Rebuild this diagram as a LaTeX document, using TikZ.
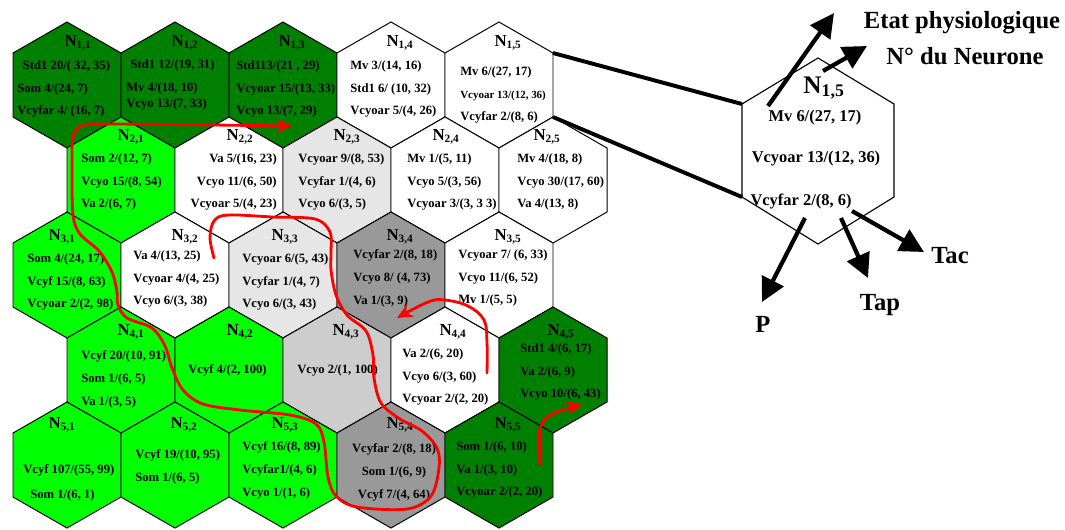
\documentclass[tikz,border=0pt]{standalone}
\usepackage{fontspec}
\setmainfont{Liberation Serif}
\usetikzlibrary{arrows.meta}

\definecolor{dkgreen}{RGB}{0,128,0}
\definecolor{ltgreen}{RGB}{0,255,0}
\definecolor{palegray}{RGB}{230,230,230}
\definecolor{midgray}{RGB}{205,205,205}
\definecolor{dkgray}{RGB}{153,153,153}

% hexagon cell: centre x, centre y, fill
\newcommand{\hexa}[3]{%
  \filldraw[hexline, fill=#3] ([shift={(#1,#2)}]0,-63) -- ++(54,31) -- ++(0,64) -- ++(-54,31) -- ++(-54,-31) -- ++(0,-64) -- cycle;}

\begin{document}
\begin{tikzpicture}[x=0.025cm, y=-0.025cm,
    hexline/.style={draw=black, line width=0.7pt},
    cell/.style={inner sep=0pt, align=left, anchor=west, font=\fontsize{9}{16.3}\selectfont\bfseries},
    numlab/.style={inner sep=0pt, font=\fontsize{12}{12}\selectfont\bfseries},
    zoomtxt/.style={inner sep=0pt, font=\fontsize{11.7}{12}\selectfont\bfseries},
    bigtxt/.style={inner sep=0pt, anchor=base, font=\fontsize{17.5}{18}\selectfont\bfseries},
    link/.style={line width=2.8pt},
    bigarrow/.style={line width=3pt, -{Triangle[length=17pt,width=17pt]}},
    trail/.style={draw=red, line width=2pt, line cap=round, line join=round}]
	\useasboundingbox (0,0) rectangle (1065,529);

	% the map
	\hexa{67}{85}{dkgreen}   \hexa{175}{85}{dkgreen}  \hexa{283}{85}{dkgreen}  \hexa{391}{85}{white}    \hexa{499}{85}{white}
	\hexa{121}{180}{ltgreen} \hexa{229}{180}{white}   \hexa{337}{180}{palegray} \hexa{445}{180}{white}  \hexa{553}{180}{white}
	\hexa{67}{275}{ltgreen}  \hexa{175}{275}{white}   \hexa{283}{275}{palegray} \hexa{391}{275}{dkgray} \hexa{499}{275}{white}
	\hexa{121}{370}{ltgreen} \hexa{229}{370}{ltgreen} \hexa{337}{370}{midgray}  \hexa{445}{370}{white}  \hexa{553}{370}{dkgreen}
	\hexa{67}{465}{ltgreen}  \hexa{175}{465}{ltgreen} \hexa{283}{465}{ltgreen}  \hexa{391}{465}{dkgray} \hexa{499}{465}{dkgreen}

	\node [numlab] (lab11) at (78,43) {N\textsubscript{1,1}};
	\node [cell] (txt11) at (17,89) {\hspace*{4pt}Std1 20/( 32,  35)\\Som 4/(24, 7)\\Vcyfar 4/ (16, 7)};
	\node [numlab] (lab12) at (185,43) {N\textsubscript{1,2}};
	\node [cell] (txt12) at (126,85) {\hspace*{3pt}Std1 12/(19, 31)\\Mv 4/(18, 10)\\[-5.5pt]Vcyo 13/(7, 33)};
	\node [numlab] (lab13) at (292,43) {N\textsubscript{1,3}};
	\node [cell] (txt13) at (236,89) {Std113/(21 , 29)\\Vcyoar 15/(13, 33)\\Vcyo 13/(7, 29)};
	\node [numlab] (lab14) at (400,43) {N\textsubscript{1,4}};
	\node [cell] (txt14) at (350,89) {Mv 3/(14, 16)\\Std1 6/ (10, 32)\\Vcyoar  5/(4, 26)};
	\node [numlab] (lab15) at (508,43) {N\textsubscript{1,5}};
	\node [cell] (txt15) at (460,95) {Mv 6/(27, 17)\\{\fontsize{7.8}{8}\selectfont Vcyoar 13/(12, 36)}\\Vcyfar 2/(8, 6)};

	\node [numlab] (lab21) at (131,137) {N\textsubscript{2,1}};
	\node [cell] (txt21) at (81,182) {Som 2/(12, 7)\\Vcyo 15/(8, 54)\\Va 2/(6, 7)};
	\node [numlab] (lab22) at (240,137) {N\textsubscript{2,2}};
	\node [cell, align=right, anchor=east] (txt22) at (277,182) {Va 5/(16, 23)\\Vcyo 11/(6, 50)\\Vcyoar 5/(4, 23)};
	\node [numlab] (lab23) at (347,137) {N\textsubscript{2,3}};
	\node [cell] (txt23) at (298,182) {Vcyoar 9/(8, 53)\\Vcyfar 1/(4, 6)\\Vcyo 6/(3, 5)};
	\node [numlab] (lab24) at (446,137) {N\textsubscript{2,4}};
	\node [cell] (txt24) at (407,182) {Mv 1/(5, 11)\\Vcyo 5/(3, 56)\\Vcyoar 3/(3, 3 3)};
	\node [numlab] (lab25) at (547,137) {N\textsubscript{2,5}};
	\node [cell] (txt25) at (517,182) {Mv 4/(18, 8)\\Vcyo 30/(17, 60)\\Va 4/(13, 8)};

	\node [numlab] (lab31) at (62,237) {N\textsubscript{3,1}};
	\node [cell] (txt31) at (27,282) {Som 4/(24, 17)\\Vcyf 15/(8, 63)\\Vcyoar 2/(2, 98)};
	\node [numlab] (lab32) at (185,237) {N\textsubscript{3,2}};
	\node [cell] (txt32) at (133,279) {Va 4/(13, 25)\\Vcyoar 4/(4, 25)\\Vcyo 6/(3, 38)};
	\node [numlab] (lab33) at (285,237) {N\textsubscript{3,3}};
	\node [cell] (txt33) at (242,282) {Vcyoar 6/(5, 43)\\Vcyfar 1/(4, 7)\\Vcyo 6/(3, 43)};
	\node [numlab] (lab34) at (400,237) {N\textsubscript{3,4}};
	\node [cell] (txt34) at (353,278) {Vcyfar 2/(8, 18)\\Vcyo 8/ (4, 73)\\Va 1/(3, 9)};
	\node [numlab] (lab35) at (508,237) {N\textsubscript{3,5}};
	\node [cell] (txt35) at (458,278) {Vcyoar 7/ (6, 33)\\Vcyo 11/(6, 52)\\Mv 1/(5, 5)};

	\node [numlab] (lab41) at (131,332) {N\textsubscript{4,1}};
	\node [cell] (txt41) at (81,379) {Vcyf 20/(10, 91)\\Som 1/(6, 5)\\Va 1/(3, 5)};
	\node [numlab] (lab42) at (240,332) {N\textsubscript{4,2}};
	\node [cell] (txt42) at (188,370) {Vcyf 4/(2, 100)};
	\node [numlab] (lab43) at (346,332) {N\textsubscript{4,3}};
	\node [cell] (txt43) at (297,370) {Vcyo 2/(1, 100)};
	\node [numlab] (lab44) at (453,332) {N\textsubscript{4,4}};
	\node [cell] (txt44) at (402,377) {Va 2/(6, 20)\\Vcyo 6/(3, 60)\\Vcyoar 2/(2, 20)};
	\node [numlab] (lab45) at (561,332) {N\textsubscript{4,5}};
	\node [cell] (txt45) at (520,372) {Std1 4/(6, 17)\\Va 2/(6, 9)\\Vcyo 10/(6, 43)};

	\node [numlab] (lab51) at (62,425) {N\textsubscript{5,1}};
	\node [cell] (txt51) at (23,483) {Vcyf 107/(55, 99)\\[2pt]\hspace*{5pt}Som 1/(6, 1)};
	\node [numlab] (lab52) at (184,425) {N\textsubscript{5,2}};
	\node [cell] (txt52) at (135,467) {Vcyf 19/(10, 95)\\Som 1/(6, 5)};
	\node [numlab] (lab53) at (285,425) {N\textsubscript{5,3}};
	\node [cell] (txt53) at (242,470) {Vcyf 16/(8, 89)\\Vcyfar1/(4, 6)\\Vcyo 1/(1, 6)};
	\node [numlab] (lab54) at (400,425) {N\textsubscript{5,4}};
	\node [cell, align=center, anchor=center] (txt54) at (394,472) {Vcyfar 2/(8, 18)\\Som 1/(6, 9)\\Vcyf 7/(4, 64)};
	\node [numlab] (lab55) at (508,425) {N\textsubscript{5,5}};
	\node [cell] (txt55) at (456,470) {Som 1/(6, 10)\\Va 1/(3, 10)\\Vcyoar 2/(2, 20)};

	% zoom on N1,5
	\coordinate (n15-ur) at (553,53);
	\coordinate (n15-lr) at (553,117);
	\coordinate (z-ul) at (742,104);
	\coordinate (z-ll) at (742,197);
	\draw [link] (n15-ur) -- (z-ul);
	\draw [link] (n15-lr) -- (z-ll);
	\draw [hexline, line width=0.8pt] (818,58) -- (894,104) -- (894,197) -- (818,244) -- (z-ll) -- (z-ul) -- cycle;

	\node [inner sep=0pt, font=\fontsize{18}{18}\selectfont\bfseries] (zlab) at (824,88) {N\textsubscript{1,5}};
	\node [zoomtxt] (zmv) at (815,118) {Mv 6/(27, 17)};
	\node [zoomtxt] (zvcyoar) at (816,159) {Vcyoar 13/(12, 36)};
	\node [zoomtxt] (zvcyfar) at (801,201) {Vcyfar 2/(8, 6)};

	\node [bigtxt] (etat) at (962,28.5) {Etat physiologique};
	\node [bigtxt] (numero) at (965,64.5) {N° du Neurone};
	\node [bigtxt] (tac) at (950,263) {Tac};
	\node [bigtxt] (tap) at (880,310) {Tap};
	\node [bigtxt] (p) at (763,332) {P};

	\coordinate (etat-from) at (768,106);  \coordinate (etat-to) at (834,13);
	\coordinate (num-from) at (823,71);    \coordinate (num-to) at (867,46);
	\coordinate (p-from) at (805,218);     \coordinate (p-to) at (762,302);
	\coordinate (tap-from) at (841,218);   \coordinate (tap-to) at (868,278);
	\coordinate (tac-from) at (852,211);   \coordinate (tac-to) at (924,252);
	\draw [bigarrow] (etat-from) -- (etat-to);
	\draw [bigarrow] (num-from) -- (num-to);
	\draw [bigarrow] (p-from) -- (p-to);
	\draw [bigarrow] (tap-from) -- (tap-to);
	\draw [bigarrow] (tac-from) -- (tac-to);

	% red trajectories
	\draw [trail, -{Stealth[length=11pt,width=10pt]}] plot [smooth, tension=0.55] coordinates {
		(214,258) (210,238) (214,221) (228,215) (273,217) (315,219) (330,232) (331,252) (331,270)
		(336,295) (347,315) (366,331) (373,355) (374,378) (381,403) (400,419) (422,431) (437,448)
		(439,468) (431,496) (407,509) (357,507) (336,496) (328,477) (324,442) (316,424) (290,415)
		(240,410) (203,404) (183,390) (172,368) (165,346) (152,328) (127,318) (118,305) (117,292)
		(112,272) (99,251) (80,234) (73,215) (72,170) (73,137) (82,126) (110,124) (292,126)};
	\draw [trail, -{Stealth[length=11pt,width=10pt]}] plot [smooth, tension=0.6] coordinates {
		(487,373) (487,343) (484,320) (468,306) (445,300) (428,302) (397,318)};
	\draw [trail, -{Stealth[length=11pt,width=10pt]}] plot [smooth, tension=0.4] coordinates {
		(540,465) (540,428) (552,414) (582,404)};
\end{tikzpicture}
\end{document}
